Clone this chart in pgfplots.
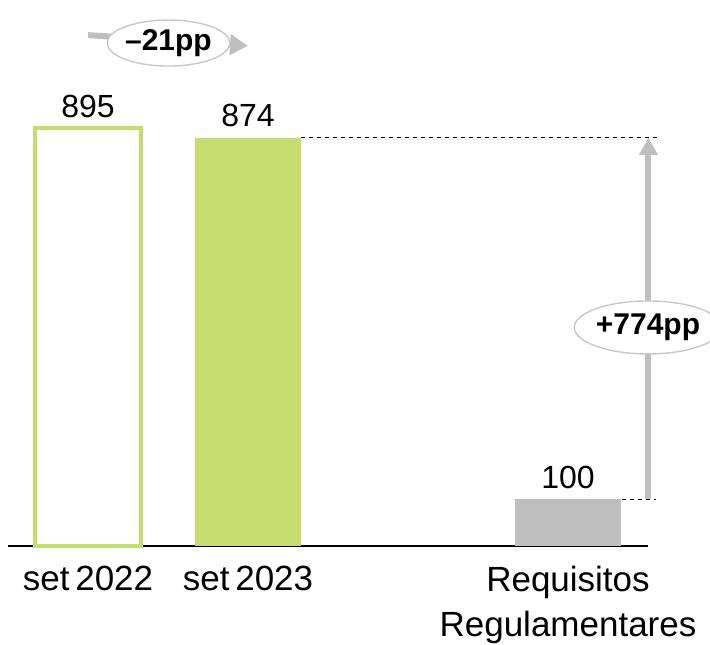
\documentclass[border=0pt]{standalone}
\usepackage{pgfplots}
\pgfplotsset{compat=1.18}
\usepackage{fontspec}
\setmainfont{Liberation Sans}
\usetikzlibrary{shapes.geometric,arrows.meta}
\definecolor{lgreen}{HTML}{C5DD6E}
\definecolor{lgray}{HTML}{BFBFBF}
\definecolor{egray}{HTML}{C8C8C8}
\begin{document}
\begin{tikzpicture}
\useasboundingbox (0,0) rectangle (355pt,322pt);
\begin{axis}[
  at={(4pt,49pt)}, anchor=south west,
  scale only axis, width=320pt, height=233.5pt,
  xmin=-0.5, xmax=3.5, ymin=0, ymax=1000,
  axis x line=bottom, axis y line=none,
  x axis line style={-, line width=0.8pt, black},
  xtick={0,1,3},
  xticklabels={set\,2022, set\,2023, {Requisitos\\Regulamentares}},
  xticklabel style={align=center, font=\fontsize{17.5}{22.5}\selectfont, anchor=north, yshift=-6.5pt},
  major tick length=0pt,
  ytick=\empty,
  /pgf/number format/assume math mode=true,
  ybar, bar width=53pt, bar shift=0pt,
  clip=false,
  nodes near coords,
  every node near coord/.append style={anchor=base, yshift=5.5pt, font=\fontsize{16}{19}\selectfont, black},
]
\addplot[draw=lgreen, line width=2pt, fill=white] coordinates {(0,895)};
\addplot[draw=none, fill=lgreen] coordinates {(1,874)};
\addplot[draw=none, fill=lgray] coordinates {(3,100)};

\draw[black, line width=0.5pt, dash pattern=on 2pt off 2pt] (axis cs:1.33,874) -- (axis cs:3.57,874);
\draw[black, line width=0.5pt, dash pattern=on 2pt off 2pt] (axis cs:3.335,100) -- (axis cs:3.55,100);
\draw[lgray, line width=3pt, -{Triangle[width=9pt,length=8.5pt]}] (axis cs:3.503,100) -- (axis cs:3.503,874);
\node[ellipse, draw=egray, line width=0.7pt, fill=white, minimum width=73pt, minimum height=26.5pt, inner sep=0pt,
  font=\fontsize{15}{18}\selectfont\bfseries] at (axis cs:3.5,468) {+774pp};

\draw[lgray, line width=3pt, -{Triangle[width=10pt,length=9pt]}] (axis cs:0,1094) -- (axis cs:1,1071);
\node[ellipse, draw=egray, line width=0.7pt, fill=white, minimum width=56pt, minimum height=23pt, inner sep=0pt,
  font=\fontsize{15}{18}\selectfont\bfseries] at (axis cs:0.503,1077) {–21pp};
\end{axis}
\end{tikzpicture}
\end{document}
